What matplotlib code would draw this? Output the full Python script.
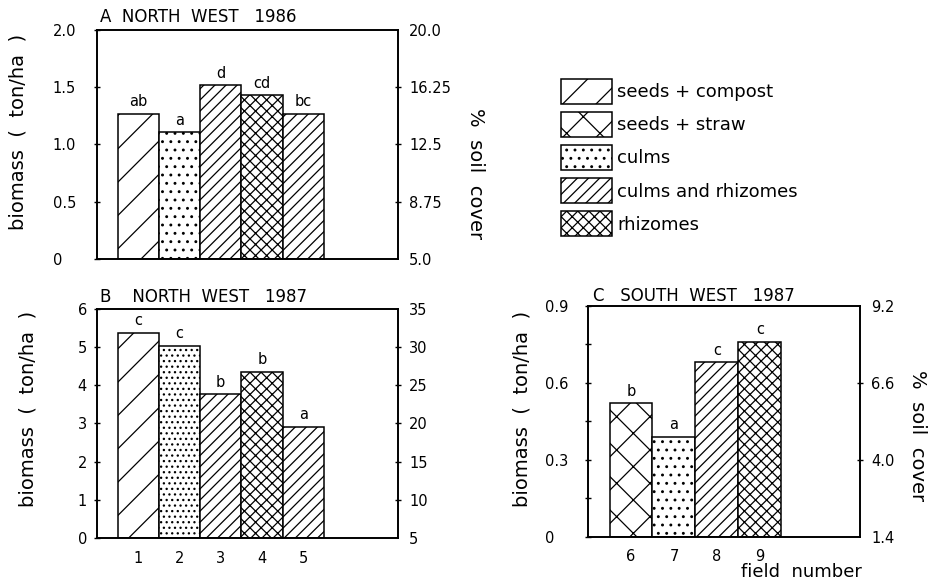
import matplotlib
matplotlib.use("Agg")
import matplotlib.pyplot as plt
from matplotlib.patches import Patch

plt.rcParams['font.family'] = ['DejaVu Sans']
plt.rcParams['hatch.linewidth'] = 0.9
plt.rcParams['hatch.color'] = 'black'
plt.rcParams['axes.linewidth'] = 1.2

# treatments and their hatch patterns
treatments = ['seeds + compost', 'seeds + straw', 'culms', 'culms and rhizomes', 'rhizomes']
hatches = {'seeds + compost': '/', 'seeds + straw': 'x', 'culms': '..',
           'culms and rhizomes': '///', 'rhizomes': 'xxx'}

# A north west 1986
fields_nw = [1, 2, 3, 4, 5]
treat_nw = ['seeds + compost', 'culms', 'culms and rhizomes', 'rhizomes', 'culms and rhizomes']
biomass_nw86 = [1.27, 1.11, 1.52, 1.43, 1.27]
letters_nw86 = ['ab', 'a', 'd', 'cd', 'bc']

# B north west 1987
biomass_nw87 = [5.38, 5.04, 3.77, 4.36, 2.92]
letters_nw87 = ['c', 'c', 'b', 'b', 'a']

# C south west 1987
fields_sw = [6, 7, 8, 9]
treat_sw = ['seeds + straw', 'culms', 'culms and rhizomes', 'rhizomes']
biomass_sw87 = [0.52, 0.39, 0.68, 0.76]
letters_sw87 = ['b', 'a', 'c', 'c']


def hide_end_ticks(ax):
    ticks = ax.yaxis.get_major_ticks()
    for t in (ticks[0], ticks[-1]):
        t.tick1line.set_visible(False)
        t.tick2line.set_visible(False)


def panel(ax, fields, treats, vals, letters, ylim, yticks, ylabels, rlim, rticks, rlabels,
          xlim, lpad, dots='..'):
    for f, t, v, l in zip(fields, treats, vals, letters):
        h = hatches[t]
        if t == 'culms':
            h = dots
        ax.bar(f, v, width=1.0, color='white', edgecolor='black', linewidth=1.1, hatch=h)
        ax.annotate(l, (f, v), xytext=(0, 3), textcoords='offset points',
                    ha='center', va='bottom', fontsize=10.5)
    ax.set_xlim(*xlim)
    ax.set_ylim(*ylim)
    ax.set_yticks(yticks, labels=ylabels, ha='left')
    ax.tick_params(axis='y', direction='inout', length=4, width=1, labelsize=10.5, pad=lpad)
    ax.tick_params(axis='x', length=0, labelsize=10.5, pad=9)
    hide_end_ticks(ax)
    r = ax.twinx()
    r.set_ylim(*rlim)
    r.set_yticks(rticks, labels=rlabels)
    r.tick_params(axis='y', direction='inout', length=4, width=1, labelsize=10.5, pad=6)
    hide_end_ticks(r)
    return r


fig = plt.figure(figsize=(9.3, 5.82), dpi=100)

axA = fig.add_axes([0.1043, 0.555, 0.3237, 0.3935])
panel(axA, fields_nw, treat_nw, biomass_nw86, letters_nw86, (0, 2.0),
      [0, 0.5, 1.0, 1.5, 2.0], ['0', '0.5', '1.0', '1.5', '2.0'],
      (5.0, 20.0), [5.0, 8.75, 12.5, 16.25, 20.0], ['5.0', '8.75', '12.5', '16.25', '20.0'],
      (0, 7.3), 30)
axA.set_xticks([])

axB = fig.add_axes([0.1043, 0.0756, 0.3237, 0.3935])
panel(axB, fields_nw, treat_nw, biomass_nw87, letters_nw87, (0, 6),
      list(range(7)), [str(i) for i in range(7)],
      (5, 35), list(range(5, 36, 5)), [str(i) for i in range(5, 36, 5)],
      (0, 7.3), 12, dots='...')
axB.set_xticks(fields_nw, labels=[str(f) for f in fields_nw])

axC = fig.add_axes([0.6323, 0.0778, 0.2925, 0.397])
panel(axC, fields_sw, treat_sw, biomass_sw87, letters_sw87, (0, 0.9),
      [0, 0.3, 0.6, 0.9], ['0', '0.3', '0.6', '0.9'],
      (1.4, 9.2), [1.4, 4.0, 6.6, 9.2], ['1.4', '4.0', '6.6', '9.2'],
      (5, 11.33), 29)
axC.set_yticks([0.15, 0.45, 0.75], minor=True)
axC.tick_params(axis='y', which='minor', direction='inout', length=4, width=1)
axC.set_xticks(fields_sw, labels=[str(f) for f in fields_sw])

# titles and axis labels
fig.text(100 / 930, 1 - 17 / 582, 'A  NORTH  WEST   1986', fontsize=12, va='center', ha='left')
fig.text(100 / 930, 1 - 297 / 582, 'B    NORTH  WEST   1987', fontsize=12, va='center', ha='left')
fig.text(593 / 930, 1 - 296 / 582, 'C   SOUTH  WEST   1987', fontsize=12, va='center', ha='left')

ylab = 'biomass  (  ton/ha  )'
fig.text(18 / 930, 1 - 132 / 582, ylab, rotation=90, fontsize=14, ha='center', va='center')
fig.text(28 / 930, 1 - 409 / 582, ylab, rotation=90, fontsize=14, ha='center', va='center')
fig.text(522 / 930, 1 - 409 / 582, ylab, rotation=90, fontsize=14, ha='center', va='center')
rlab = '%  soil  cover'
fig.text(475 / 930, 1 - 174 / 582, rlab, rotation=-90, fontsize=14, ha='center', va='center')
fig.text(917 / 930, 1 - 436 / 582, rlab, rotation=-90, fontsize=14, ha='center', va='center')
fig.text(801 / 930, 1 - 572 / 582, 'field  number', fontsize=13, ha='center', va='center')

# legend
handles = [Patch(facecolor='white', edgecolor='black', linewidth=1.1, hatch=hatches[t])
           for t in treatments]
fig.legend(handles, treatments, loc='upper left', bbox_to_anchor=(561 / 930, 1 - 79 / 582),
           frameon=False, fontsize=13, handlelength=2.8, handleheight=1.75,
           labelspacing=0.45, handletextpad=0.3, borderpad=0, borderaxespad=0)

fig.savefig('out.png', dpi=100)
